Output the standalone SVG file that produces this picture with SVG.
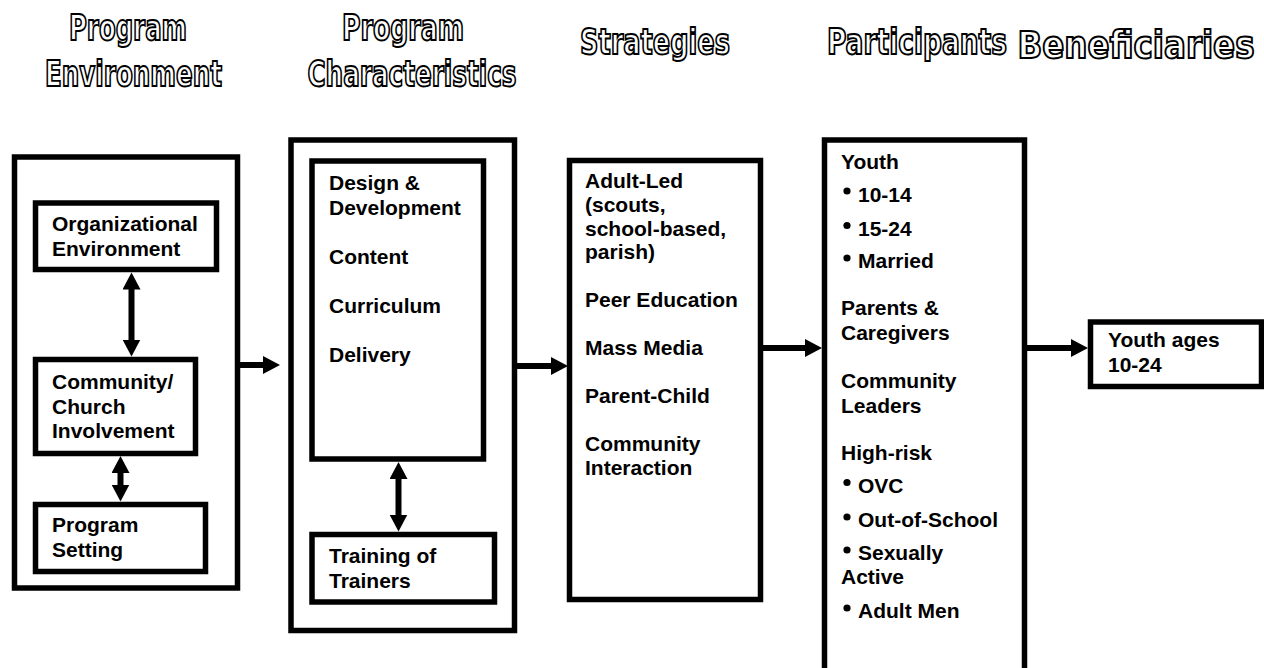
<svg xmlns="http://www.w3.org/2000/svg" width="1264" height="668" viewBox="0 0 1264 668">
<style>
.hdr{font-family:"DejaVu Sans Condensed","DejaVu Sans","Liberation Sans",sans-serif;font-stretch:condensed;font-weight:bold;fill:#fff;stroke:#000;stroke-width:1.9;text-anchor:middle}
.box{fill:#fff;stroke:#000;stroke-width:5.5}
.t{font-family:"Liberation Sans",Arial,sans-serif;font-weight:bold;font-size:21px;fill:#000}
.con{stroke:#000;stroke-width:6;fill:none}
</style>
<defs>
<marker id="ah" markerWidth="18" markerHeight="18" refX="5" refY="9" orient="auto-start-reverse" markerUnits="userSpaceOnUse">
<path d="M0,0 L17,9 L0,18 z" fill="#000"/>
</marker>
</defs>
<rect width="1264" height="668" fill="#fff"/>
<g id="headers">
<text class="hdr" x="128" y="40" font-size="35" textLength="118" lengthAdjust="spacingAndGlyphs">Program</text>
<text class="hdr" x="133.5" y="86" font-size="35" textLength="177" lengthAdjust="spacingAndGlyphs">Environment</text>
<text class="hdr" x="403" y="40" font-size="35" textLength="122" lengthAdjust="spacingAndGlyphs">Program</text>
<text class="hdr" x="412" y="86" font-size="35" textLength="209" lengthAdjust="spacingAndGlyphs">Characteristics</text>
<text class="hdr" x="655" y="54" font-size="35" textLength="150" lengthAdjust="spacingAndGlyphs">Strategies</text>
<text class="hdr" x="917" y="54" font-size="35" textLength="180" lengthAdjust="spacingAndGlyphs">Participants</text>
<text class="hdr" x="1136" y="58" font-size="37" textLength="237" lengthAdjust="spacingAndGlyphs">Beneficiaries</text>
</g>
<g id="env">
<rect class="box" x="14.5" y="157" width="223" height="431"/>
</g>
<g id="org">
<rect class="box" x="35.5" y="203" width="181" height="66.5"/>
<text class="t" x="52" y="231">Organizational</text>
<text class="t" x="52" y="255.5">Environment</text>
</g>
<g id="community">
<rect class="box" x="35.5" y="359.5" width="160" height="94"/>
<text class="t" x="52" y="389">Community/</text>
<text class="t" x="52" y="413.5">Church</text>
<text class="t" x="52" y="438">Involvement</text>
</g>
<g id="setting">
<rect class="box" x="35.5" y="504.5" width="170" height="67"/>
<text class="t" x="52" y="532">Program</text>
<text class="t" x="52" y="557">Setting</text>
</g>
<g id="characteristics">
<rect class="box" x="291" y="140" width="223.5" height="490.5"/>
</g>
<g id="design">
<rect class="box" x="312" y="161" width="171.5" height="298"/>
<text class="t" x="329" y="190">Design &amp;</text>
<text class="t" x="329" y="214.5">Development</text>
<text class="t" x="329" y="264">Content</text>
<text class="t" x="329" y="312.5">Curriculum</text>
<text class="t" x="329" y="361.5">Delivery</text>
</g>
<g id="training">
<rect class="box" x="312" y="534.5" width="182.5" height="67.5"/>
<text class="t" x="329" y="563">Training of</text>
<text class="t" x="329" y="587.5">Trainers</text>
</g>
<g id="strategies">
<rect class="box" x="569.5" y="160.5" width="191" height="439"/>
<text class="t" x="585" y="188">Adult-Led</text>
<text class="t" x="585" y="211.7">(scouts,</text>
<text class="t" x="585" y="235.5">school-based,</text>
<text class="t" x="585" y="259">parish)</text>
<text class="t" x="585" y="306.5">Peer Education</text>
<text class="t" x="585" y="354.5">Mass Media</text>
<text class="t" x="585" y="402.5">Parent-Child</text>
<text class="t" x="585" y="450.5">Community</text>
<text class="t" x="585" y="474.5">Interaction</text>
</g>
<g id="participants">
<rect class="box" x="824.5" y="140" width="200" height="560"/>
<text class="t" x="841" y="169.3">Youth</text>
<circle cx="847" cy="191" r="3.6"/>
<text class="t" x="858" y="201.7">10-14</text>
<circle cx="847" cy="225.5" r="3.6"/>
<text class="t" x="858" y="236">15-24</text>
<circle cx="847" cy="258" r="3.6"/>
<text class="t" x="858" y="268.3">Married</text>
<text class="t" x="841" y="315">Parents &amp;</text>
<text class="t" x="841" y="339.5">Caregivers</text>
<text class="t" x="841" y="388.3">Community</text>
<text class="t" x="841" y="412.7">Leaders</text>
<text class="t" x="841" y="460">High-risk</text>
<circle cx="847" cy="482.5" r="3.6"/>
<text class="t" x="858" y="492.7">OVC</text>
<circle cx="847" cy="517" r="3.6"/>
<text class="t" x="858" y="527.3">Out-of-School</text>
<circle cx="847" cy="550" r="3.6"/>
<text class="t" x="858" y="560">Sexually</text>
<text class="t" x="841" y="584">Active</text>
<circle cx="847" cy="608" r="3.6"/>
<text class="t" x="858" y="618.3">Adult Men</text>
</g>
<g id="beneficiaries">
<rect class="box" x="1090.5" y="322" width="171" height="64.5"/>
<text class="t" x="1108" y="347.3">Youth ages</text>
<text class="t" x="1108" y="371.7">10-24</text>
</g>
<g id="connectors">
<line class="con" x1="240" y1="365" x2="268" y2="365" marker-end="url(#ah)"/>
<line class="con" x1="517" y1="366" x2="556" y2="366" marker-end="url(#ah)"/>
<line class="con" x1="763" y1="348" x2="810" y2="348" marker-end="url(#ah)"/>
<line class="con" x1="1027" y1="348" x2="1076" y2="348" marker-end="url(#ah)"/>
<line class="con" x1="131.5" y1="284.5" x2="131.5" y2="344.5" marker-start="url(#ah)" marker-end="url(#ah)"/>
<line class="con" x1="120.5" y1="468" x2="120.5" y2="489.5" marker-start="url(#ah)" marker-end="url(#ah)"/>
<line class="con" x1="398.5" y1="474" x2="398.5" y2="519.5" marker-start="url(#ah)" marker-end="url(#ah)"/>
</g>
</svg>
